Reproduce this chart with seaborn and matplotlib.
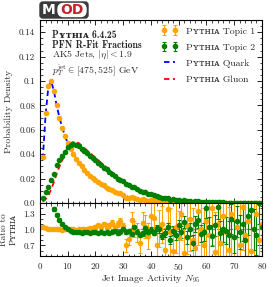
import numpy as np
import pandas as pd
import seaborn as sns
import matplotlib
matplotlib.use('Agg')
import matplotlib.pyplot as plt
from matplotlib.patches import FancyBboxPatch
from matplotlib.ticker import MultipleLocator

sns.set_style('ticks')
# computer modern look, fallback for the small caps glyphs
plt.rcParams['font.family'] = ['cmr10', 'DejaVu Serif', 'DejaVu Sans']
plt.rcParams['mathtext.fontset'] = 'cm'
plt.rcParams['axes.formatter.use_mathtext'] = True

# N95 bins
n95 = list(range(1, 81))

# pythia quark / gluon densities
quark = [0.036, 0.072, 0.095, 0.100, 0.092, 0.080, 0.070, 0.062, 0.055, 0.049,
         0.044, 0.040, 0.036, 0.033, 0.030, 0.027, 0.024, 0.022, 0.020, 0.018,
         0.016, 0.0145, 0.013, 0.0118, 0.0106, 0.0095, 0.0085, 0.0076, 0.0068, 0.0061,
         0.0055, 0.0049, 0.0044, 0.0039, 0.0035, 0.0031, 0.0028, 0.0025, 0.0022, 0.0020,
         0.0018, 0.0016, 0.0014, 0.0012, 0.0011, 0.0010, 0.0009, 0.0008, 0.0007, 0.0006,
         0.00055, 0.0005, 0.00045, 0.0004, 0.00035, 0.0003, 0.00027, 0.00024, 0.00021, 0.00019,
         0.00017, 0.00015, 0.00013, 0.00012, 0.0001, 0.00009, 0.00008, 0.00007, 0.00006, 0.00005,
         0.00004, 0.00004, 0.00003, 0.00003, 0.00002, 0.00002, 0.00002, 0.00001, 0.00001, 0.00001]
gluon = [0.001, 0.003, 0.006, 0.011, 0.017, 0.024, 0.030, 0.035, 0.040, 0.046,
         0.049, 0.050, 0.050, 0.049, 0.047, 0.045, 0.043, 0.041, 0.039, 0.037,
         0.035, 0.033, 0.031, 0.029, 0.027, 0.025, 0.023, 0.0212, 0.0196, 0.018,
         0.0166, 0.0153, 0.014, 0.0128, 0.0117, 0.0107, 0.0097, 0.0088, 0.008, 0.0072,
         0.0065, 0.0058, 0.0052, 0.0047, 0.0042, 0.0037, 0.0033, 0.0029, 0.0026, 0.0023,
         0.002, 0.0018, 0.0016, 0.0014, 0.0012, 0.0011, 0.001, 0.0009, 0.0008, 0.0007,
         0.0006, 0.00055, 0.0005, 0.00045, 0.0004, 0.00035, 0.0003, 0.00027, 0.00024, 0.0002,
         0.00018, 0.00016, 0.00014, 0.00012, 0.0001, 0.00009, 0.00008, 0.00007, 0.00006, 0.00005]

# topic / pythia ratios (lower panel)
ratio1 = [1.04, 1.02, 1.01, 1.00, 1.00, 1.00, 1.00, 0.99, 1.00, 1.00,
          1.00, 1.00, 0.99, 1.00, 1.01, 1.00, 1.01, 1.02, 1.03, 1.05,
          1.08, 1.06, 1.10, 1.05, 1.08, 1.12, 1.04, 1.10, 1.15, 1.06,
          0.70, 0.82, 1.18, 1.00, 0.95, 0.75, 1.12, 1.05, 0.88, 1.25,
          1.22, 0.70, 1.02, 1.10, 0.62, 1.38, 0.95, 0.60, 1.05, 0.85,
          1.30, 0.55, 1.08, 1.20, 0.80, 0.65, 1.35, 1.00, 0.70, 1.15,
          0.90, 1.40, 0.58, 1.10, 0.75, 1.25, 0.95, 0.62, 1.30, 0.85,
          1.05, 0.70, 1.42, 0.90, 1.15, 0.60, 1.00, 1.30, 0.80, 1.10]
ratio1_err = [0.01, 0.01, 0.01, 0.01, 0.01, 0.01, 0.01, 0.01, 0.01, 0.01,
              0.01, 0.01, 0.015, 0.015, 0.015, 0.02, 0.02, 0.02, 0.025, 0.03,
              0.03, 0.035, 0.04, 0.04, 0.045, 0.05, 0.05, 0.06, 0.06, 0.07,
              0.12, 0.12, 0.15, 0.15, 0.18, 0.2, 0.2, 0.22, 0.25, 0.25,
              0.3, 0.3, 0.35, 0.35, 0.4, 0.4, 0.45, 0.45, 0.5, 0.5,
              0.5, 0.55, 0.55, 0.6, 0.6, 0.6, 0.65, 0.65, 0.7, 0.7,
              0.7, 0.7, 0.75, 0.75, 0.75, 0.8, 0.8, 0.8, 0.8, 0.8,
              0.8, 0.8, 0.8, 0.8, 0.8, 0.8, 0.8, 0.8, 0.8, 0.8]
ratio2 = [4.0, 3.0, 2.2, 1.7, 1.38, 1.28, 1.18, 1.11, 1.05, 1.00,
          0.97, 0.96, 0.95, 0.96, 0.94, 0.95, 0.96, 0.94, 0.95, 0.96,
          0.94, 0.95, 0.93, 0.96, 0.94, 0.95, 0.97, 0.93, 0.96, 1.00,
          0.95, 0.98, 0.92, 1.04, 0.96, 0.90, 0.93, 1.02, 0.96, 0.99,
          0.94, 1.03, 1.00, 0.88, 0.93, 1.05, 0.80, 0.98, 0.90, 1.08,
          0.95, 1.14, 0.85, 1.00, 0.75, 1.10, 1.18, 0.92, 0.96, 1.40,
          1.05, 0.88, 1.08, 1.42, 0.93, 1.00, 0.98, 0.90, 1.20, 0.85,
          1.15, 0.95, 1.10, 0.80, 1.25, 1.37, 1.00, 0.90, 1.50, 1.05]
ratio2_err = [0.1, 0.06, 0.05, 0.05, 0.04, 0.035, 0.03, 0.025, 0.02, 0.02,
              0.015, 0.015, 0.015, 0.015, 0.015, 0.015, 0.015, 0.015, 0.015, 0.015,
              0.02, 0.02, 0.02, 0.02, 0.02, 0.02, 0.025, 0.025, 0.025, 0.03,
              0.03, 0.03, 0.035, 0.035, 0.04, 0.04, 0.045, 0.045, 0.05, 0.05,
              0.05, 0.06, 0.06, 0.06, 0.07, 0.08, 0.08, 0.09, 0.1, 0.1,
              0.11, 0.12, 0.12, 0.13, 0.14, 0.15, 0.15, 0.16, 0.17, 0.18,
              0.18, 0.2, 0.2, 0.22, 0.22, 0.24, 0.25, 0.26, 0.28, 0.3,
              0.3, 0.32, 0.32, 0.34, 0.35, 0.36, 0.38, 0.38, 0.4, 0.4]

df = pd.DataFrame({'n95': n95, 'quark': quark, 'gluon': gluon,
                   'ratio1': ratio1, 'ratio1_err': ratio1_err,
                   'ratio2': ratio2, 'ratio2_err': ratio2_err})
df['topic1'] = df['ratio1'] * df['quark']
df['topic1_err'] = df['ratio1_err'] * df['quark']
df['topic2'] = df['ratio2'] * df['gluon']
df['topic2_err'] = df['ratio2_err'] * df['gluon']

xticks = [0, 10, 20, 30, 40, 50, 60, 70, 80]
yticks = [0.0, 0.02, 0.04, 0.06, 0.08, 0.1, 0.12, 0.14]
ytick_labels = ['0.0', '0.02', '0.04', '0.06', '0.08', '0.1', '0.12', '0.14']
rticks = [0.7, 1.0, 1.3]
rtick_labels = ['0.7', '1.0', '1.3']

orange = '#FFA500'
green = '#008000'
pyth = 'P\u028f\u1d1b\u029c\u026a\u1d00'

fig = plt.figure(figsize=(2.74, 2.87), dpi=100)
ax = fig.add_axes([0.146, 0.293, 0.81, 0.637])
rax = fig.add_axes([0.146, 0.108, 0.81, 0.185], sharex=ax)

eb_kw = dict(fmt='o', ms=3, capsize=1.2, elinewidth=0.8, capthick=0.8, lw=0)
h1 = ax.errorbar(df['n95'], df['topic1'], yerr=df['topic1_err'], color=orange, **eb_kw)
h2 = ax.errorbar(df['n95'], df['topic2'], yerr=df['topic2_err'], color=green, **eb_kw)
sns.lineplot(data=df, x='n95', y='quark', ax=ax, color='blue', lw=1.3)
sns.lineplot(data=df, x='n95', y='gluon', ax=ax, color='red', lw=1.3)
for ln in ax.lines[-2:]:
    ln.set_linestyle((0, (3, 2)))
hq, hg = ax.lines[-2], ax.lines[-1]

ax.set_xlim(0, 80)
ax.set_ylim(0, 0.15)
ax.set_yticks(yticks, labels=ytick_labels)
ax.yaxis.set_minor_locator(MultipleLocator(0.005))
ax.set_ylabel('Probability Density', fontsize=7)
ax.set_xlabel('')
plt.setp(ax.get_xticklabels(), visible=False)

ax.legend([h1, h2, hq, hg],
          [pyth + ' Topic 1', pyth + ' Topic 2', pyth + ' Quark', pyth + ' Gluon'],
          loc='upper right', frameon=False, fontsize=7, numpoints=2,
          handlelength=1.8, labelspacing=0.75, borderaxespad=0.3)

txt_kw = dict(transform=ax.transAxes, fontsize=7, va='top')
ax.text(0.054, 0.945, pyth + ' 6.4.25', fontfamily=['cmb10', 'DejaVu Serif'],
        fontweight='bold', **txt_kw)
ax.text(0.054, 0.893, 'PFN R-Fit Fractions', fontfamily=['cmb10', 'DejaVu Serif'], **txt_kw)
ax.text(0.054, 0.843, r'AK5 Jets, $|\eta| < 1.9$', **txt_kw)
ax.text(0.054, 0.768, r'$p_T^{\mathrm{jet}} \in [475, 525]$ GeV', **txt_kw)

# ratio panel
rax.axhline(1.0, color='gray', ls='--', lw=0.8)
rax.errorbar(df['n95'], df['ratio1'], yerr=df['ratio1_err'], color=orange, **eb_kw)
rax.errorbar(df['n95'], df['ratio2'], yerr=df['ratio2_err'], color=green, **eb_kw)
rax.set_ylim(0.5, 1.5)
rax.set_yticks(rticks, labels=rtick_labels)
rax.yaxis.set_minor_locator(MultipleLocator(0.1))
rax.set_xticks(xticks)
rax.xaxis.set_minor_locator(MultipleLocator(2))
rax.set_ylabel('Ratio to\n' + pyth, fontsize=6.5)
rax.set_xlabel(r'Jet Image Activity $N_{95}$', fontsize=7, labelpad=1)

for a in (ax, rax):
    a.tick_params(which='both', direction='in', top=True, right=True, labelsize=6.5)
    a.tick_params(which='major', length=3.5, width=0.7)
    a.tick_params(which='minor', length=1.8, width=0.6)
    for s in a.spines.values():
        s.set_linewidth(0.8)
        s.set_color('black')

fig.align_ylabels([ax, rax])

# MOD logo
x0, y0, w, h = 40 / 274, 1 - 18 / 287, 48 / 274, 16 / 287
fig.patches.append(FancyBboxPatch((x0, y0), w, h, boxstyle='round,pad=0,rounding_size=0.01',
                                  transform=fig.transFigure, fc='#3a3a3a', ec='#3a3a3a'))
fig.patches.append(FancyBboxPatch((58 / 274, 1 - 16.5 / 287), 28 / 274, 13 / 287,
                                  boxstyle='round,pad=0,rounding_size=0.02',
                                  transform=fig.transFigure, fc='white', ec='white'))
fig.text(49 / 274, 1 - 10 / 287, 'M', color='white', fontsize=10, fontweight='bold',
         fontfamily='DejaVu Sans', ha='center', va='center')
fig.text(72 / 274, 1 - 10 / 287, 'OD', color='#c0262d', fontsize=10, fontweight='bold',
         fontfamily='DejaVu Sans', ha='center', va='center')

fig.savefig('out.png', dpi=100)
